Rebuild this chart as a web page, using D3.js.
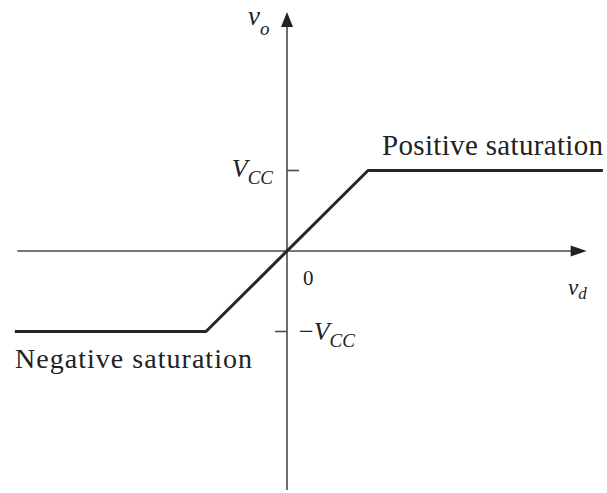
<!DOCTYPE html>
<html>
<head>
<meta charset="utf-8">
<script src="https://cdn.jsdelivr.net/npm/d3@7"></script>
</head>
<body>
<script>
// Op-amp transfer characteristic: output v_o vs differential input v_d.
// Input in units of Vcc/A (knee at ±1), output in units of Vcc.
const curveVd = [-3.36, -1, 1, 3.9];
const curveVo = [-1, -1, 1, 1];

// Axis extents (same units)
const vdAxis = [-3.33, 3.70];
const voAxis = [-2.97, 2.97];

// Marked output levels and their labels
const voTicks = [1, -1];
const voTickLabels = ["V|CC", "−V|CC"];

// Region labels
const regionLabels = ["Positive saturation", "Negative saturation"];

const W = 607, H = 493;
const INK = "#222";
d3.select("body").style("margin", "0px");
const svg = d3.select("body").append("svg").attr("width", W).attr("height", H);

const x = d3.scaleLinear().domain([0, 1]).range([287, 368]);
const y = d3.scaleLinear().domain([0, 1]).range([251, 170.5]);

const axisColor = "#4a4a4a";

// Horizontal axis (v_d) with arrowhead
svg.append("line")
  .attr("x1", x(vdAxis[0])).attr("x2", x(vdAxis[1]) - 8)
  .attr("y1", y(0)).attr("y2", y(0))
  .attr("stroke", axisColor).attr("stroke-width", 1.6);
const ax = x(vdAxis[1]), ay = y(0);
svg.append("path")
  .attr("d", `M${ax},${ay} L${ax - 16},${ay - 5.5} L${ax - 16},${ay + 5.5} Z`)
  .attr("fill", INK);

// Vertical axis (v_o) with arrowhead
svg.append("line")
  .attr("x1", x(0)).attr("x2", x(0))
  .attr("y1", y(voAxis[0])).attr("y2", y(voAxis[1]) + 8)
  .attr("stroke", axisColor).attr("stroke-width", 1.6);
const bx = x(0), by = y(voAxis[1]);
svg.append("path")
  .attr("d", `M${bx},${by} L${bx - 6},${by + 15} L${bx + 6},${by + 15} Z`)
  .attr("fill", INK);

// Tick marks at ±Vcc: +Vcc tick to the right, −Vcc tick to the left
svg.selectAll("line.tick").data(voTicks).join("line")
  .attr("class", "tick")
  .attr("x1", x(0))
  .attr("x2", d => d > 0 ? x(0) + 12 : x(0) - 12)
  .attr("y1", d => y(d)).attr("y2", d => y(d))
  .attr("stroke", axisColor).attr("stroke-width", 1.6);

// Transfer curve
const line = d3.line().x(d => x(d[0])).y(d => y(d[1]));
svg.append("path")
  .datum(d3.zip(curveVd, curveVo))
  .attr("d", line)
  .attr("fill", "none")
  .attr("stroke", "#262626")
  .attr("stroke-width", 3)
  .attr("stroke-linejoin", "round");

function addText(sel, size) {
  return sel.append("text")
    .attr("font-size", size)
    .style("font-family", '"Liberation Serif"')
    .attr("fill", INK);
}

// Main text with subscript
function subText(sel, main, sub, opts) {
  const t = addText(sel, opts.size)
    .attr("x", opts.x).attr("y", opts.y)
    .attr("text-anchor", opts.anchor || "start");
  if (opts.prefix) t.append("tspan").text(opts.prefix);
  t.append("tspan").attr("font-style", "italic").text(main);
  t.append("tspan").attr("font-size", opts.subSize).attr("font-style", "italic")
    .attr("dy", opts.subDy).text(sub);
  return t;
}

// +Vcc label (left of the axis), −Vcc label (right of the axis)
const [m1, s1] = voTickLabels[0].split("|");
subText(svg, m1, s1, { x: 273, y: y(voTicks[0]) + 6, anchor: "end", size: 26, subSize: 19, subDy: 7 });
const [m2, s2] = voTickLabels[1].split("|");
subText(svg, m2.replace("−", ""), s2, { x: 299, y: y(voTicks[1]) + 8, size: 26, subSize: 19, subDy: 7, prefix: "−" });

// Origin label
addText(svg, 21).attr("x", 303).attr("y", 285).text("0");

// Axis names
subText(svg, "v", "o", { x: 248, y: 25, size: 27, subSize: 19, subDy: 10 });
subText(svg, "v", "d", { x: 568, y: 295, size: 23, subSize: 17, subDy: 4 });

// Region labels
addText(svg, 29).attr("x", 382).attr("y", 155)
  .attr("textLength", 221).attr("lengthAdjust", "spacing").text(regionLabels[0]);
addText(svg, 28).attr("x", 15).attr("y", 368)
  .attr("textLength", 237).attr("lengthAdjust", "spacing").text(regionLabels[1]);
</script>
</body>
</html>
